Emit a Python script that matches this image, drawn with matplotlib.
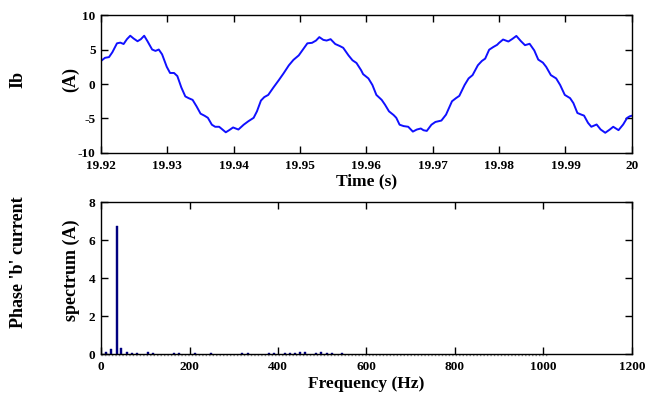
import matplotlib
matplotlib.use("Agg")
import matplotlib.pyplot as plt

# Phase 'b' current waveform, last 80 ms of the run
time_s = [
    19.9200, 19.9206, 19.9212, 19.9217, 19.9224, 19.9229, 19.9234, 19.9239,
    19.9244, 19.9249, 19.9255, 19.9260, 19.9265, 19.9270, 19.9277, 19.9282,
    19.9287, 19.9292, 19.9299, 19.9304, 19.9310, 19.9315, 19.9321, 19.9327,
    19.9332, 19.9338, 19.9344, 19.9350, 19.9356, 19.9361, 19.9367, 19.9372,
    19.9378, 19.9383, 19.9388, 19.9393, 19.9399, 19.9407, 19.9415, 19.9422,
    19.9430, 19.9435, 19.9441, 19.9446, 19.9452, 19.9460, 19.9468, 19.9475,
    19.9483, 19.9490, 19.9498, 19.9504, 19.9511, 19.9518, 19.9524, 19.9529,
    19.9535, 19.9540, 19.9546, 19.9553, 19.9560, 19.9565, 19.9573, 19.9579,
    19.9585, 19.9592, 19.9595, 19.9603, 19.9609, 19.9615, 19.9623, 19.9628,
    19.9634, 19.9641, 19.9645, 19.9650, 19.9656, 19.9663, 19.9670, 19.9676,
    19.9682, 19.9686, 19.9691, 19.9698, 19.9704, 19.9713, 19.9720, 19.9729,
    19.9735, 19.9740, 19.9748, 19.9754, 19.9760, 19.9768, 19.9774, 19.9779,
    19.9785, 19.9791, 19.9797, 19.9800, 19.9806, 19.9814, 19.9820, 19.9826,
    19.9833, 19.9839, 19.9846, 19.9853, 19.9859, 19.9866, 19.9871, 19.9878,
    19.9886, 19.9892, 19.9899, 19.9907, 19.9912, 19.9918, 19.9924, 19.9928,
    19.9934, 19.9939, 19.9947, 19.9953, 19.9960, 19.9967, 19.9972, 19.9980,
    19.9987, 19.9993, 19.9997, 20.0000,
]
current_a = [
    3.35, 3.80, 3.90, 4.60, 5.90, 6.00, 5.80, 6.50,
    7.00, 6.60, 6.20, 6.50, 7.00, 6.20, 5.00, 4.80,
    5.00, 4.30, 2.50, 1.60, 1.60, 1.15, -0.50, -1.80,
    -2.05, -2.30, -3.25, -4.30, -4.60, -4.90, -5.90, -6.20,
    -6.20, -6.60, -7.00, -6.70, -6.30, -6.60, -5.90, -5.40,
    -4.90, -3.96, -2.40, -1.90, -1.58, -0.48, 0.57, 1.53,
    2.70, 3.50, 4.15, 4.97, 5.90, 5.97, 6.30, 6.80,
    6.40, 6.30, 6.50, 5.80, 5.50, 5.25, 4.15, 3.44,
    3.05, 2.00, 1.43, 0.81, -0.14, -1.58, -2.30, -3.00,
    -3.96, -4.50, -4.90, -5.90, -6.10, -6.20, -6.90, -6.60,
    -6.45, -6.70, -6.80, -5.90, -5.50, -5.30, -4.44, -2.50,
    -2.05, -1.72, -0.14, 0.81, 1.29, 2.72, 3.34, 3.68,
    4.97, 5.35, 5.68, 5.97, 6.45, 6.16, 6.54, 6.97,
    6.20, 5.63, 5.83, 4.87, 3.54, 3.10, 2.48, 1.29,
    0.81, -0.14, -1.58, -2.05, -2.77, -4.20, -4.44, -4.58,
    -5.63, -6.20, -5.87, -6.59, -7.07, -6.59, -6.20, -6.69,
    -5.87, -4.91, -4.68, -4.60,
]

# Harmonic spectrum of the same current
freq_hz = [
    10.5, 22.5, 35.0, 46.0, 58.5, 70.0, 82.0, 106.0, 118.0, 165.5, 177.0,
    212.0, 248.5, 318.5, 332.0, 379.0, 390.0, 415.0, 428.0, 439.0, 450.0,
    462.0, 486.0, 498.0, 511.0, 522.0, 544.5,
]
amp_a = [
    0.11, 0.28, 6.75, 0.32, 0.13, 0.07, 0.05, 0.12, 0.07, 0.05, 0.05,
    0.05, 0.05, 0.05, 0.05, 0.05, 0.07, 0.05, 0.06, 0.07, 0.12,
    0.12, 0.05, 0.12, 0.07, 0.05, 0.05,
]

time_ticks = [19.92, 19.93, 19.94, 19.95, 19.96, 19.97, 19.98, 19.99, 20.0]
time_labels = ["19.92", "19.93", "19.94", "19.95", "19.96", "19.97", "19.98", "19.99", "20"]
freq_ticks = [0, 200, 400, 600, 800, 1000, 1200]

serif = ["Liberation Serif", "DejaVu Serif"]
plt.rcParams["font.family"] = serif
plt.rcParams["font.weight"] = "bold"

fig = plt.figure(figsize=(6.52, 4.01), dpi=100)
ax1 = fig.add_axes([0.155, 0.6185, 0.814, 0.344])
ax2 = fig.add_axes([0.155, 0.1172, 0.814, 0.379])

for ax in (ax1, ax2):
    ax.tick_params(direction="in", length=5, width=1, top=True, right=True,
                   labelsize=9.5)
    ax.tick_params(axis="x", pad=5)
    ax.tick_params(axis="y", pad=4)
    for sp in ax.spines.values():
        sp.set_linewidth(1.0)

# time-domain plot
ax1.plot(time_s, current_a, color="#1010ff", linewidth=1.4)
ax1.set_xlim(19.92, 20.0)
ax1.set_ylim(-10, 10)
ax1.set_xticks(time_ticks)
ax1.set_xticklabels(time_labels, fontweight="bold")
ax1.set_yticks([-10, -5, 0, 5, 10])
ax1.set_yticklabels(["-10", "-5", "0", "5", "10"], fontweight="bold")
ax1.set_xlabel("Time (s)", fontsize=12.5, fontweight="bold", labelpad=1)

# spectrum plot
ax2.bar(freq_hz, amp_a, width=4.5, color="#000080", edgecolor="#000080",
        linewidth=0.3)
ax2.plot([0, 1010], [-0.04, -0.04], color="#888888", linestyle=(0, (1, 1.5)),
         linewidth=1.0, clip_on=False)
ax2.set_xlim(0, 1200)
ax2.set_ylim(0, 8)
ax2.set_xticks(freq_ticks)
ax2.set_xticklabels([str(v) for v in freq_ticks], fontweight="bold")
ax2.set_yticks([0, 2, 4, 6, 8])
ax2.set_yticklabels(["0", "2", "4", "6", "8"], fontweight="bold")
ax2.set_xlabel("Frequency (Hz)", fontsize=12.5, fontweight="bold", labelpad=2)

# side titles
def side_text(x_px, y_px, s):
    fig.text(x_px / 652, 1 - y_px / 401, s, rotation=90, ha="center",
             va="center", fontsize=13, fontweight="bold")

side_text(18, 79, "Ib")
side_text(71, 79, "(A)")
side_text(19, 262, "Phase 'b' current")
side_text(71, 270, "spectrum (A)")

fig.savefig("out.png", dpi=100)
